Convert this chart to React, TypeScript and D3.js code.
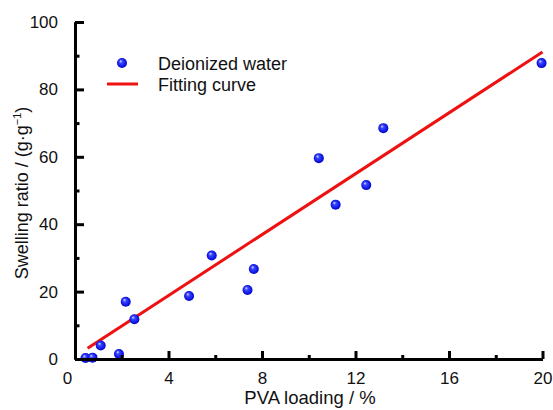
import * as d3 from 'd3'
import { useEffect, useRef } from 'react'

// PVA loading (%) vs swelling ratio (g/g), deionized water
const loading = [0.45, 0.75, 1.1, 1.88, 2.17, 2.54, 4.88, 5.85, 7.38, 7.65, 10.43, 11.15, 12.46, 13.19, 19.96]
const swelling = [0.3, 0.4, 4.0, 1.5, 17.0, 11.8, 18.7, 30.7, 20.5, 26.7, 59.6, 45.8, 51.6, 68.5, 87.8]

// linear fit end points
const fitX = [0.54, 20]
const fitY = [3.2, 91.1]

const xTicks = [0, 4, 8, 12, 16, 20]
const xMinor = [2, 6, 10, 14, 18]
const yTicks = [0, 20, 40, 60, 80, 100]
const yMinor = [10, 30, 50, 70, 90]

const W = 553
const H = 410
const font = 'Arial, Liberation Sans, sans-serif'

export default function App() {
  const ref = useRef<SVGSVGElement>(null)

  useEffect(() => {
    if (!ref.current) return
    const svg = d3.select(ref.current)
    svg.selectAll('*').remove()

    const x = d3.scaleLinear().domain([0, 20]).range([75, 542.5])
    const y = d3.scaleLinear().domain([0, 100]).range([359, 22])

    // sphere gradient
    const grad = svg
      .append('defs')
      .append('radialGradient')
      .attr('id', 'ball')
      .attr('cx', 0.5)
      .attr('cy', 0.5)
      .attr('r', 0.55)
      .attr('fx', 0.35)
      .attr('fy', 0.3)
    grad.append('stop').attr('offset', 0).attr('stop-color', '#dde4ff')
    grad.append('stop').attr('offset', 0.3).attr('stop-color', '#3a46ff')
    grad.append('stop').attr('offset', 0.8).attr('stop-color', '#0a10e0')
    grad.append('stop').attr('offset', 1).attr('stop-color', '#0000a8')

    // titles
    svg
      .append('text')
      .attr('x', 310)
      .attr('y', 404)
      .attr('text-anchor', 'middle')
      .attr('font-family', font)
      .attr('font-size', 18.5)
      .attr('fill', '#111')
      .text('PVA loading / %')

    const yt = svg
      .append('text')
      .attr('transform', 'translate(28,193) rotate(-90)')
      .attr('text-anchor', 'middle')
      .attr('font-family', font)
      .attr('font-size', 18)
      .attr('fill', '#111')
    yt.append('tspan').text('Swelling ratio / (g·g')
    yt.append('tspan').attr('dy', -7).attr('font-size', 11).text('−1')
    yt.append('tspan').attr('dy', 7).text(')')

    // fit line
    svg
      .append('path')
      .datum(fitY)
      .attr('fill', 'none')
      .attr('stroke', '#ee1111')
      .attr('stroke-width', 3)
      .attr(
        'd',
        d3
          .line<number>()
          .x((_, i) => x(fitX[i]))
          .y(d => y(d))
      )

    // points
    svg
      .append('g')
      .selectAll('circle')
      .data(loading)
      .join('circle')
      .attr('cx', d => x(d))
      .attr('cy', (_, i) => y(swelling[i]))
      .attr('r', 5)
      .attr('fill', 'url(#ball)')

    // legend
    const lg = svg.append('g').attr('font-family', font).attr('font-size', 18).attr('fill', '#111')
    lg.append('circle').attr('cx', 122).attr('cy', 63).attr('r', 5).attr('fill', 'url(#ball)')
    lg.append('text').attr('x', 158).attr('y', 70).text('Deionized water')
    lg.append('path').attr('d', 'M107,84H138').attr('stroke', '#ee1111').attr('stroke-width', 3)
    lg.append('text').attr('x', 158).attr('y', 91).text('Fitting curve')

    // axes on top: minor ticks in their own groups, then the major ones
    svg
      .append('g')
      .attr('transform', `translate(0,${y(0)})`)
      .call(d3.axisBottom(x).tickValues(xMinor).tickSize(-4).tickFormat(() => '').tickSizeOuter(0))
    svg
      .append('g')
      .attr('transform', `translate(${x(0)},0)`)
      .call(d3.axisLeft(y).tickValues(yMinor).tickSize(-4.5).tickFormat(() => '').tickSizeOuter(0))

    const gx = svg
      .append('g')
      .attr('transform', `translate(0,${y(0)})`)
      .call(d3.axisBottom(x).tickValues(xTicks).tickSize(-8).tickPadding(13).tickSizeOuter(0))
    svg
      .append('g')
      .attr('transform', `translate(${x(0)},0)`)
      .call(d3.axisLeft(y).tickValues(yTicks).tickSize(-9).tickPadding(17).tickSizeOuter(0))

    svg.selectAll('.domain').attr('stroke', '#000').attr('stroke-width', 3)
    svg.selectAll('.tick line').attr('stroke', '#000').attr('stroke-width', 3)
    svg
      .selectAll('.tick text')
      .attr('font-family', font)
      .attr('font-size', 17)
      .attr('fill', '#111')
    gx.selectAll('.tick').filter(d => d === 0).select('text').attr('dx', -8)
    gx.selectAll('.tick').filter(d => d === 0).select('line').remove()
  }, [])

  return (
    <svg
      ref={ref}
      width={W}
      height={H}
      style={{ position: 'absolute', left: 0, top: 0 }}
    />
  )
}
